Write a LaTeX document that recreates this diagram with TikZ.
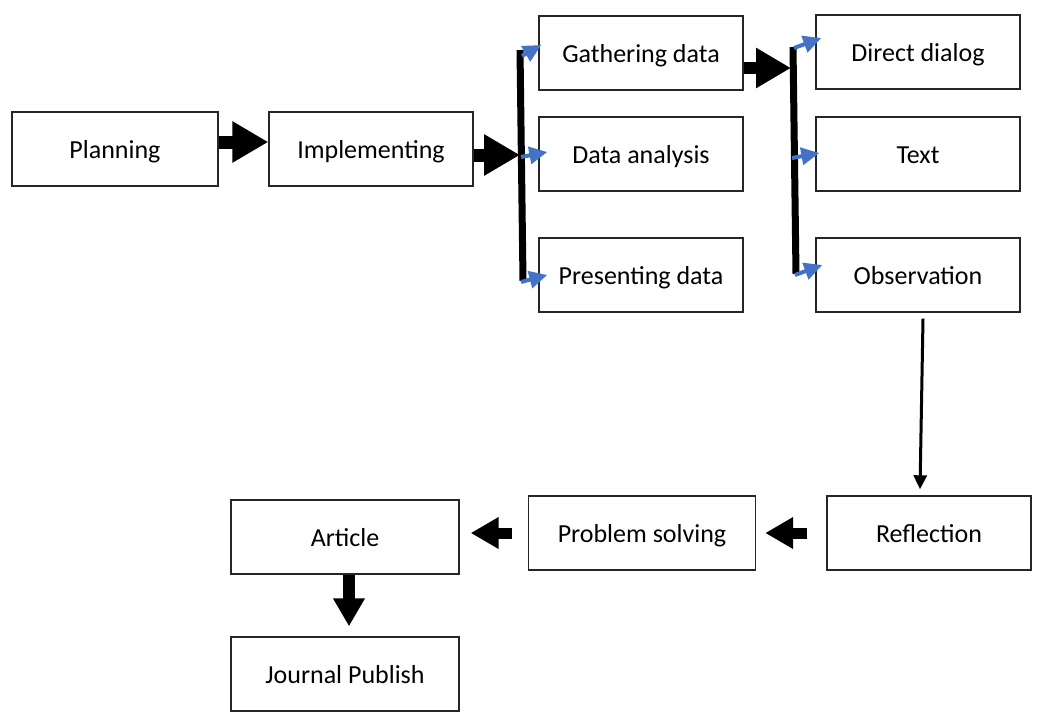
\documentclass[tikz,border=0pt]{standalone}
\usepackage{fontspec}
\setmainfont{Carlito}
\usetikzlibrary{arrows.meta}
\definecolor{officeblue}{RGB}{68,114,196}
\begin{document}
\begin{tikzpicture}[x=1pt,y=-1pt,
  box/.style={draw=black!85,line width=1.4pt,minimum height=74pt,inner sep=0pt,
    text height=24pt,text depth=5pt,
    font=\fontsize{26}{30}\selectfont},
  bigarrow/.style={line width=13pt,-{Triangle[length=36pt,width=39pt]}},
  smallarrow/.style={line width=11pt,-{Triangle[length=28pt,width=30pt]}},
  bluearrow/.style={officeblue,line width=4pt,-{Triangle[length=18pt 0 0,width=17pt 0 0]}},
  bar/.style={line width=7pt}]
\useasboundingbox (0,0) rectangle (1057,713);

% process boxes
\node[box,minimum width=206pt] (plan)     at (115,149) {Planning};
\node[box,minimum width=204pt] (impl)     at (371,149) {Implementing};
\node[box,minimum width=204pt] (gather)   at (641,53)  {Gathering data};
\node[box,minimum width=204pt] (analysis) at (641,154) {Data analysis};
\node[box,minimum width=204pt] (present)  at (641,275) {Presenting data};
\node[box,minimum width=204pt] (dialog)   at (918,52)  {Direct dialog};
\node[box,minimum width=204pt] (text)     at (918,154) {Text};
\node[box,minimum width=204pt] (obs)      at (918,275) {Observation};
\node[box,minimum width=204pt] (refl)     at (929,533) {Reflection};
\node[box,minimum width=227pt] (solve)    at (642,533) {Problem solving};
\node[box,minimum width=228pt] (article)  at (345,537) {Article};
\node[box,minimum width=228pt] (journal)  at (345,674) {Journal Publish};

% branching bars
\coordinate (barLtop) at (520,50);
\coordinate (barLbot) at (523,281);
\coordinate (jL) at (520,155);
\coordinate (barRtop) at (793,47);
\coordinate (barRbot) at (796,274);
\coordinate (jR) at (791,68);
\draw[bar] (barLtop) -- (barLbot);
\draw[bar] (barRtop) -- (barRbot);

% main flow
\draw[bigarrow] ([yshift=7pt]plan.east) -- ([yshift=7pt]impl.west);
\draw[bigarrow] (impl.east |- jL) -- (jL);
\draw[bigarrow,-{Triangle[length=35pt,width=38pt]},line width=12pt] (gather.east |- jR) -- (jR);

% branches to the data steps
\coordinate (bl1) at (522,56);
\coordinate (bl2) at (521,157);
\coordinate (bl3) at (521,282);
\draw[bluearrow] (bl1) -- ([xshift=3pt,yshift=8pt]gather.west);
\draw[bluearrow] (bl2) -- ([xshift=9pt,yshift=2pt]analysis.west);
\draw[bluearrow] (bl3) -- ([xshift=9pt]present.west);

% branches to the data sources
\coordinate (br1) at (794,48);
\coordinate (br2) at (792,158);
\coordinate (br3) at (795,275);
\draw[bluearrow] (br1) -- ([xshift=6pt,yshift=14pt]dialog.west);
\draw[bluearrow] (br2) -- ([xshift=4pt,yshift=1pt]text.west);
\draw[bluearrow] (br3) -- ([xshift=7pt,yshift=10pt]obs.west);

% return path
\draw[line width=3pt,-{Triangle[length=14pt,width=13pt]}]
  ([xshift=5pt,yshift=-6pt]obs.south) -- ([xshift=-9pt,yshift=6pt]refl.north);
\draw[smallarrow] ([xshift=-19pt]refl.west) -- ([xshift=9pt]solve.east);
\coordinate (q) at (article.east |- solve.west);
\draw[smallarrow] ([xshift=-16pt]solve.west) -- ([xshift=11pt]q);
\draw[smallarrow,line width=12pt] ([xshift=4pt]article.south) -- ([xshift=4pt,yshift=10pt]journal.north);
\end{tikzpicture}
\end{document}
